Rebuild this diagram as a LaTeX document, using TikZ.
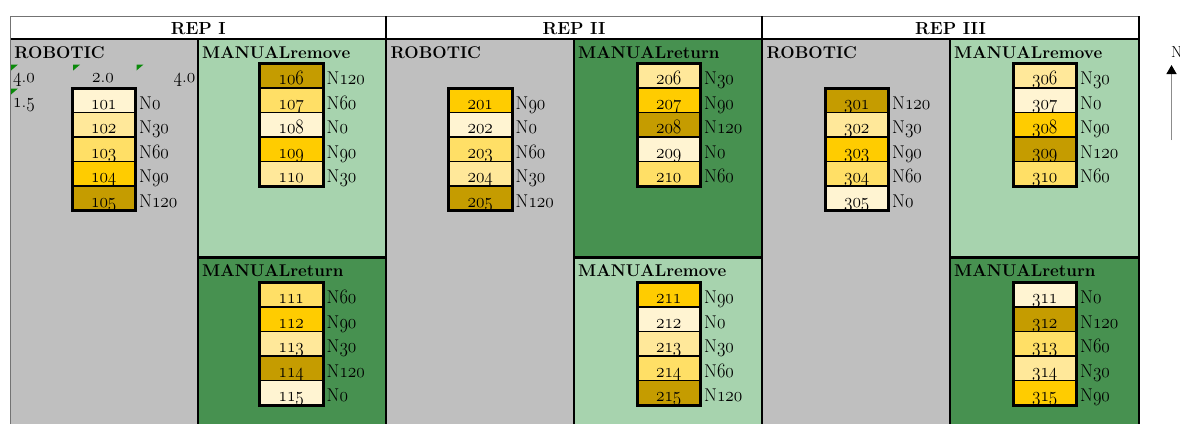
\documentclass[tikz,border=0pt]{standalone}
\usetikzlibrary{arrows.meta}
\definecolor{robg}{HTML}{BFBFBF}
\definecolor{remg}{HTML}{A7D3AE}
\definecolor{retg}{HTML}{479150}
\definecolor{lv0}{HTML}{FFF4D2}
\definecolor{lv30}{HTML}{FFE89A}
\definecolor{lv60}{HTML}{FFDF66}
\definecolor{lv90}{HTML}{FFCC00}
\definecolor{lv120}{HTML}{C59C00}
\definecolor{flagg}{HTML}{0A8A0A}
\newcommand\osn[1]{\scalebox{1}[1.18]{\usefont{OML}{lmm}{m}{it}#1}}
\tikzset{
  cellbox/.style={draw=black, line width=1.8pt, minimum width=63.5pt, minimum height=24.5pt,
    inner sep=0pt, outer sep=0pt, text height=17.5pt, text depth=0pt,
    font=\fontsize{17.5}{20}\selectfont},
  lbl/.style={anchor=base west, inner sep=0pt, font=\fontsize{18.5}{21}\selectfont},
  boxframe/.style={draw=black, line width=3pt},
  thickline/.style={draw=black, line width=2.2pt},
  thinline/.style={draw=black!55, line width=0.9pt},
  sectitle/.style={anchor=base west, inner sep=0pt, font=\bfseries\fontsize{17}{20}\selectfont},
  reptitle/.style={anchor=base, inner sep=0pt, font=\bfseries\fontsize{17.5}{20}\selectfont},
  smallnum/.style={inner sep=0pt, font=\fontsize{19}{21}\selectfont},
  flag/.style={fill=flagg},
}
% #1 x0, #2 top, #3 list num/level, #4 first, #5 last
\newcommand\plotcol[5]{%
  \foreach \n/\lv [count=\i from 0] in {#3}{%
    \node[cellbox, fill=lv\lv] (c\n) at (#1+31.75, #2+12.25+24.5*\i) {\osn{\n}};
    \node[lbl] (l\n) at ([xshift=3.5pt]c\n.base east) {N\osn{\lv}};
  }
  \draw[boxframe] (c#4.north west) rectangle (c#5.south east);
}
\begin{document}
\begin{tikzpicture}[x=1pt,y=-1pt]
\useasboundingbox (0,0) rectangle (1180,424);
\fill[white] (0,0) rectangle (1180,424);
% header
\fill[white] (10.7,16) rectangle (1139,39);
% REP I
\fill[robg] (10.7,39) rectangle (198,424);
\fill[remg] (198,39) rectangle (386,257.5);
\fill[retg] (198,257.5) rectangle (386,424);
% REP II
\fill[robg] (386,39) rectangle (574,424);
\fill[retg] (574,39) rectangle (762,257.5);
\fill[remg] (574,257.5) rectangle (762,424);
% REP III
\fill[robg] (762,39) rectangle (950,424);
\fill[remg] (950,39) rectangle (1139,257.5);
\fill[retg] (950,257.5) rectangle (1139,424);
% lines
\draw[thinline] (10.7,16) -- (1139,16);
\draw[thinline] (10.7,16) -- (10.7,424);
\draw[thickline] (10.7,39) -- (1139,39);
\foreach \xx in {386,762,1139} {\draw[thickline] (\xx,16) -- (\xx,424);}
\foreach \xx in {198,574,950} {\draw[thickline] (\xx,39) -- (\xx,424);}
\draw[thickline] (198,257.5) -- (386,257.5);
\draw[thickline] (574,257.5) -- (762,257.5);
\draw[thickline] (950,257.5) -- (1139,257.5);
% headers
\node[reptitle] (rep1) at (198.3,34) {REP I};
\node[reptitle] (rep2) at (574,34) {REP II};
\node[reptitle] (rep3) at (950.5,34) {REP III};
% section titles
\node[sectitle] (t11) at (14.2,58) {ROBOTIC};
\node[sectitle] (t12) at (202,58) {MANUALremove};
\node[sectitle] (t13) at (202,276) {MANUALreturn};
\node[sectitle] (t21) at (390.5,58) {ROBOTIC};
\node[sectitle] (t22) at (578,58) {MANUALreturn};
\node[sectitle] (t23) at (578,276) {MANUALremove};
\node[sectitle] (t31) at (766.5,58) {ROBOTIC};
\node[sectitle] (t32) at (954,58) {MANUALremove};
\node[sectitle] (t33) at (954,276) {MANUALreturn};
% flags and small numbers
\fill[flag] (11,64.5) -- ++(7,0) -- ++(-7,6) -- cycle;
\fill[flag] (73.2,64.5) -- ++(7,0) -- ++(-7,6) -- cycle;
\fill[flag] (136.5,64.5) -- ++(7,0) -- ++(-7,6) -- cycle;
\fill[flag] (11,88.5) -- ++(7,0) -- ++(-7,6) -- cycle;
\node[smallnum, anchor=base west] (s1) at (13,82.3) {\osn{4}.\osn{0}};
\node[smallnum, anchor=base west] (s2) at (92,82.3) {\osn{2}.\osn{0}};
\node[smallnum, anchor=base east] (s3) at (195.5,82.3) {\osn{4}.\osn{0}};
\node[smallnum, anchor=base west] (s4) at (13,107.7) {\osn{1}.\osn{5}};
% cells
\plotcol{72}{88}{101/0,102/30,103/60,104/90,105/120}{101}{105}
\plotcol{259.5}{63.5}{106/120,107/60,108/0,109/90,110/30}{106}{110}
\plotcol{259.5}{282.5}{111/60,112/90,113/30,114/120,115/0}{111}{115}
\plotcol{448.5}{88}{201/90,202/0,203/60,204/30,205/120}{201}{205}
\plotcol{637}{63.5}{206/30,207/90,208/120,209/0,210/60}{206}{210}
\plotcol{637}{282.5}{211/90,212/0,213/30,214/60,215/120}{211}{215}
\plotcol{825}{88}{301/120,302/30,303/90,304/60,305/0}{301}{305}
\plotcol{1013}{63.5}{306/30,307/0,308/90,309/120,310/60}{306}{310}
\plotcol{1013}{282.5}{311/0,312/120,313/60,314/30,315/90}{311}{315}
% north arrow
\node[anchor=base west, inner sep=0pt, font=\fontsize{16}{18}\selectfont] (north) at (1171,57) {N};
\coordinate (ntail) at (1171.5,140);
\coordinate (nhead) at (1171.5,65);
\draw[black!45, line width=1.3pt, -{Triangle[length=9pt,width=10pt,color=black]}] (ntail) -- (nhead);
\end{tikzpicture}
\end{document}
